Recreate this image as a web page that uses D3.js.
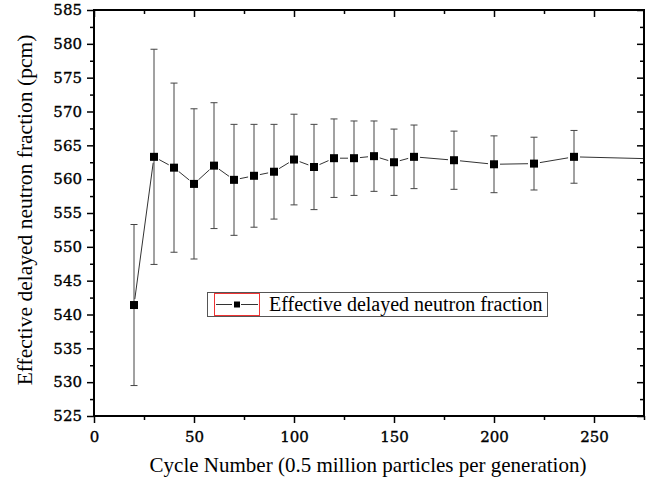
<!DOCTYPE html>
<html><head><meta charset="utf-8">
<script src="https://cdn.jsdelivr.net/npm/d3@7"></script>
<style>body{margin:0;background:#fff}svg{display:block}
.tick text{font-family:"DejaVu Serif",serif !important;font-size:15px}
</style>
</head><body>
<svg id="c" width="646" height="482"></svg>
<script>
const cycles = [20,30,40,50,60,70,80,90,100,110,120,130,140,150,160,180,200,220,240,280];
const beta   = [541.4,563.3,561.7,559.3,562.0,559.9,560.5,561.1,562.9,561.8,563.1,563.1,563.4,562.5,563.3,562.8,562.2,562.3,563.3,563.0];
const errs   = [11.9,15.9,12.5,11.1,9.3,8.2,7.6,7.0,6.7,6.3,5.8,5.5,5.2,4.9,4.7,4.3,4.2,3.9,3.9,3.7];
const xTicks = [0,50,100,150,200,250];
const yTicks = [525,530,535,540,545,550,555,560,565,570,575,580,585];
const seriesName = "Effective delayed neutron fraction";
const xTitle = "Cycle Number (0.5 million particles per generation)";
const yTitle = "Effective delayed neutron fraction (pcm)";

const svg = d3.select("#c");
const L=94, R=644, T=10, B=416;
const x = d3.scaleLinear().domain([0,275]).range([L,R]);
const y = d3.scaleLinear().domain([525,585]).range([B,T]);
const data = cycles.map((c,i)=>({c, v:beta[i], e:errs[i]}));

svg.append("defs").append("clipPath").attr("id","clip")
  .append("rect").attr("x",L).attr("y",T).attr("width",R-L).attr("height",B-T);
const g = svg.append("g").attr("clip-path","url(#clip)");

const gap = 6;
for(let i=0;i<data.length-1;i++){
  const x1=x(data[i].c), y1=y(data[i].v), x2=x(data[i+1].c), y2=y(data[i+1].v);
  const len=Math.hypot(x2-x1,y2-y1), ux=(x2-x1)/len, uy=(y2-y1)/len;
  g.append("line").attr("x1",x1+ux*gap).attr("y1",y1+uy*gap)
    .attr("x2",x2-ux*gap).attr("y2",y2-uy*gap)
    .attr("stroke","#333").attr("stroke-width",1);
}
const eb = g.selectAll(".eb").data(data).enter().append("g");
eb.append("line").attr("x1",d=>x(d.c)).attr("x2",d=>x(d.c))
  .attr("y1",d=>y(d.v+d.e)).attr("y2",d=>y(d.v-d.e)).attr("stroke","#444").attr("stroke-width",1);
eb.append("line").attr("x1",d=>x(d.c)-3.5).attr("x2",d=>x(d.c)+3.5)
  .attr("y1",d=>y(d.v+d.e)).attr("y2",d=>y(d.v+d.e)).attr("stroke","#444").attr("stroke-width",1);
eb.append("line").attr("x1",d=>x(d.c)-3.5).attr("x2",d=>x(d.c)+3.5)
  .attr("y1",d=>y(d.v-d.e)).attr("y2",d=>y(d.v-d.e)).attr("stroke","#444").attr("stroke-width",1);
g.selectAll(".m").data(data).enter().append("rect")
  .attr("x",d=>x(d.c)-4).attr("y",d=>y(d.v)-4).attr("width",8).attr("height",8).attr("fill","#000");

const bottom = svg.append("g").attr("transform",`translate(0,${B})`)
  .call(d3.axisBottom(x).tickValues(xTicks).tickSize(7).tickSizeOuter(0).tickPadding(5).tickFormat(d3.format("d")));
svg.append("g").attr("transform",`translate(0,${B})`)
  .call(d3.axisBottom(x).tickValues([25,75,125,175,225,275]).tickSize(4).tickSizeOuter(0).tickFormat(""));
const left = svg.append("g").attr("transform",`translate(${L},0)`)
  .call(d3.axisLeft(y).tickValues(yTicks).tickSize(7).tickSizeOuter(0).tickPadding(5).tickFormat(d3.format("d")));
svg.append("g").attr("transform",`translate(${L},0)`)
  .call(d3.axisLeft(y).tickValues(d3.range(527.5,585,5)).tickSize(4).tickSizeOuter(0).tickFormat(""));
svg.append("g").attr("transform",`translate(0,${T})`)
  .call(d3.axisBottom(x).tickValues(xTicks).tickSize(7).tickSizeOuter(0).tickFormat(""));
svg.append("g").attr("transform",`translate(0,${T})`)
  .call(d3.axisBottom(x).tickValues([25,75,125,175,225]).tickSize(4).tickSizeOuter(0).tickFormat(""));
svg.append("g").attr("transform",`translate(${R},0)`)
  .call(d3.axisLeft(y).tickValues(yTicks).tickSize(7).tickSizeOuter(0).tickFormat(""));
svg.append("g").attr("transform",`translate(${R},0)`)
  .call(d3.axisLeft(y).tickValues(d3.range(527.5,585,5)).tickSize(4).tickSizeOuter(0).tickFormat(""));
svg.selectAll(".domain").remove();
svg.selectAll("g").attr("font-family",null).attr("font-size",null);
svg.selectAll(".tick line").attr("stroke","#000").attr("stroke-width",1.5);
svg.selectAll(".tick text").style("font-family","'DejaVu Serif', serif").style("font-size","15px")
  .attr("fill","#000").attr("stroke","#000").attr("stroke-width",0.35);
bottom.selectAll(".tick text").attr("dy","0.9em");
svg.append("rect").attr("x",L).attr("y",T).attr("width",R-L).attr("height",B-T)
  .attr("fill","none").attr("stroke","#000").attr("stroke-width",2);

const tfont = "'Liberation Serif', 'Times New Roman', serif";
svg.append("text").attr("x",(L+R)/2-1).attr("y",472).attr("text-anchor","middle")
  .style("font-family",tfont).style("font-size","21px").text(xTitle);
svg.append("text").attr("transform",`translate(32,${(T+B)/2-3}) rotate(-90)`).attr("text-anchor","middle")
  .style("font-family",tfont).style("font-size","21.5px").text(yTitle);

const lg = svg.append("g");
lg.append("rect").attr("x",207.5).attr("y",292.5).attr("width",340).attr("height",24)
  .attr("fill","#fff").attr("stroke","#555").attr("stroke-width",1);
lg.append("rect").attr("x",214.5).attr("y",293.5).attr("width",45).attr("height",22)
  .attr("fill","none").attr("stroke","#e33").attr("stroke-width",1);
lg.append("line").attr("x1",216).attr("x2",232).attr("y1",304.5).attr("y2",304.5).attr("stroke","#333");
lg.append("line").attr("x1",241).attr("x2",258).attr("y1",304.5).attr("y2",304.5).attr("stroke","#333");
lg.append("rect").attr("x",234).attr("y",301.5).attr("width",6).attr("height",6).attr("fill","#000");
lg.append("text").attr("x",269).attr("y",311).style("font-family",tfont).style("font-size","20px").text(seriesName);
</script>
</body></html>
